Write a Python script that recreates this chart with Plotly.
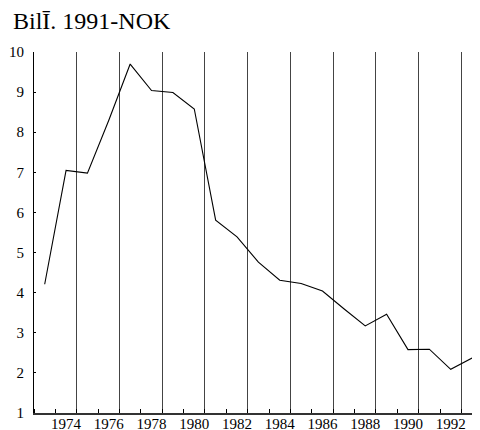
import plotly.graph_objects as go

years = list(range(1973, 1994))
values = [4.21, 7.05, 6.98, 8.3, 9.7, 9.04, 8.99, 8.58, 5.81, 5.39, 4.76,
          4.31, 4.23, 4.04, 3.6, 3.17, 3.46, 2.58, 2.59, 2.09, 2.37]
label_years = list(range(1974, 1993, 2))
y_ticks = list(range(1, 11))
title_text = "Bil\u012a. 1991-NOK"

grid_pos = [y + 0.5 for y in label_years]
x_range = [years[0] - 0.5, years[-1] + 0.37]

font_family = "'Liberation Serif', 'Times New Roman', Times, serif"

# page body has an 8px margin, so the figure is sized to fill the rest
W, H = 472, 422

fig = go.Figure()
fig.add_trace(go.Scatter(x=years, y=values, mode="lines",
                         line=dict(color="black", width=1.1),
                         showlegend=False, hoverinfo="skip"))
# dummy trace to activate the grid axis
fig.add_trace(go.Scatter(x=[], y=[], xaxis="x2", showlegend=False))

fig.update_layout(
    width=W, height=H,
    margin=dict(l=26, r=0, t=44, b=17, autoexpand=False),
    paper_bgcolor="white", plot_bgcolor="white",
    font=dict(family=font_family, color="black", size=15),
    title=dict(text=title_text, x=5 / W, xanchor="left",
               y=1 - 4 / H, yanchor="top", automargin=False,
               font=dict(family=font_family, size=24, color="black")),
    xaxis=dict(range=x_range, tickvals=label_years,
               ticktext=[str(y) for y in label_years],
               ticks="", showgrid=False, zeroline=False, automargin=False,
               showline=True, linecolor="#333", linewidth=1.5,
               tickfont=dict(family=font_family, size=15),
               ticklabelstandoff=-4,
               minor=dict(tick0=0.5, dtick=1, ticks="inside", ticklen=4,
                          tickcolor="black", tickwidth=1, showgrid=False)),
    xaxis2=dict(range=x_range, overlaying="x", matches="x", anchor="y",
                tickvals=grid_pos, showticklabels=False, ticks="",
                showgrid=True, gridcolor="#444", gridwidth=1, automargin=False,
                zeroline=False, showline=False),
    yaxis=dict(range=[1, 10], tickvals=y_ticks,
               ticks="inside", ticklen=2, tickcolor="black",
               showgrid=False, zeroline=False, automargin=False,
               showline=True, linecolor="black", linewidth=1,
               tickfont=dict(family=font_family, size=15), ticklabelstandoff=6),
)

fig.write_html("out.html")
